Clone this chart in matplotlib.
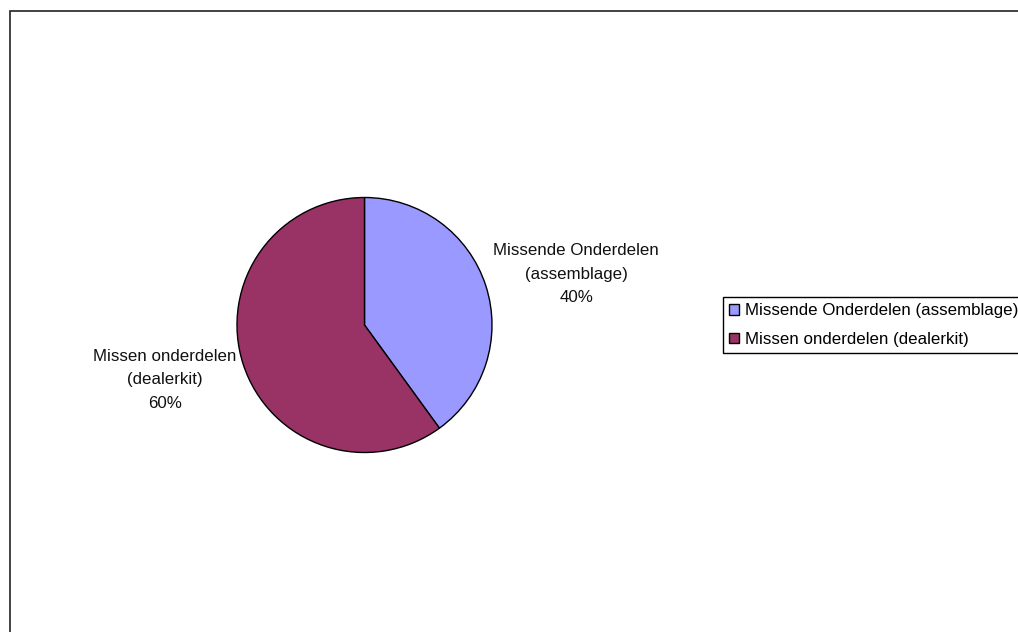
import numpy as np
import matplotlib.pyplot as plt
from matplotlib.patches import Rectangle

plt.rcParams['font.family'] = ['Liberation Sans', 'DejaVu Sans']

categories = ['Missende Onderdelen (assemblage)', 'Missen onderdelen (dealerkit)']
label_texts = ['Missende Onderdelen\n(assemblage)', 'Missen onderdelen\n(dealerkit)']
values = [40, 60]
colors = ['#9999FF', '#993366']

W, H = 1018, 632
fig = plt.figure(figsize=(W / 100, H / 100), dpi=100)

# chart border (runs off the right and bottom edges)
fig.patches.append(Rectangle((9.5 / W, -0.1), 1.2, 1 - 10.5 / H + 0.1, transform=fig.transFigure,
                             fill=False, edgecolor='#222222', linewidth=1.2))

# pie centre at (364.5, 325) px, radius 127.5 px
cx, cy, r = 364.5, 325, 127.5
ax = fig.add_axes([(cx - 2 * r) / W, (H - cy - 2 * r) / H, 4 * r / W, 4 * r / H])

wedges, _ = ax.pie(values, colors=colors, startangle=90, counterclock=False, radius=1,
                   wedgeprops=dict(edgecolor='black', linewidth=1.0))
ax.set_xlim(-2, 2)
ax.set_ylim(-2, 2)
ax.axis('off')

# label centres, in pie radii, placed like Excel's outside-end labels
label_pos = [(1.66, 0.40), (-1.565, -0.43)]
total = sum(values)
for (x, y), txt, v in zip(label_pos, label_texts, values):
    ax.text(x, y, f'{txt}\n{v / total:.0%}', ha='center', va='center',
            fontsize=12.2, linespacing=1.7, color='#111111')

fig.legend(wedges, categories, loc='upper left', bbox_to_anchor=(723 / W, 1 - 297 / H),
           frameon=True, fancybox=False, edgecolor='black', framealpha=1,
           fontsize=12.2, handlelength=0.55, handleheight=0.55, handletextpad=0.35,
           borderpad=0.38, labelspacing=0.78, borderaxespad=0)

fig.savefig('out.png', dpi=100, facecolor='white')
